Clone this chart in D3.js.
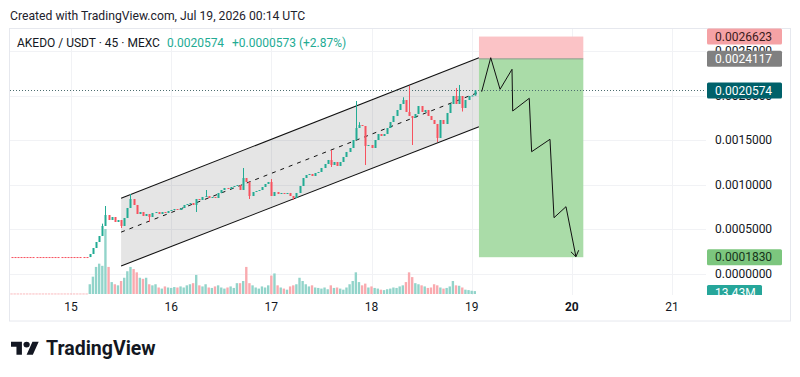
<!DOCTYPE html>
<html><head><meta charset="utf-8">
<script src="https://cdn.jsdelivr.net/npm/d3@7"></script>
<style>body{margin:0;background:#fff;} svg{display:block;font-family:Roboto,"Noto Sans",sans-serif;}</style>
</head><body><svg id="c" width="800" height="377"></svg>
<script>
// ---------------- DATA ----------------
const startTime = "2026-07-14T09:45:00Z";
const intervalMinutes = 45;
const preListingCloses = [0.000185,0.000185,0.000185,0.000185,0.000185,0.000185,0.000185,0.000185,0.000185,0.000185,
  0.000185,0.000185,0.000185,0.000185,0.000185,0.000185,0.000185,0.000185,0.000185,0.000185,
  0.000185,0.000185,0.000185,0.000185,0.000185];
const tradingCloses = [
  0.0002191,0.0002865,0.0003539,0.0004213,0.0005337,0.0006573,0.0006011,0.0006348,0.0005787,0.0006011,
  0.0005337,0.0006236,0.0007360,0.0008371,0.0007697,0.0006685,0.0006910,0.0006461,0.0006685,0.0006348,
  0.0006798,0.0006910,0.0006685,0.0006910,0.0006798,0.0007022,0.0007135,0.0007247,0.0007135,0.0007360,
  0.0007697,0.0007809,0.0007921,0.0007697,0.0008371,0.0008258,0.0008596,0.0008708,0.0008483,0.0008596,
  0.0008483,0.0009045,0.0009382,0.0009607,0.0009494,0.0009719,0.0009831,0.0009944,0.0009382,0.0010730,
  0.0010281,0.0008708,0.0009157,0.0009270,0.0009382,0.0009719,0.0010056,0.0010281,0.0008708,0.0009157,
  0.0008933,0.0009045,0.0008933,0.0009045,0.0008708,0.0008483,0.0009045,0.0009831,0.0010730,0.0011067,
  0.0011180,0.0010955,0.0011292,0.0011404,0.0011854,0.0012303,0.0012753,0.0012191,0.0012528,0.0012079,
  0.0012528,0.0013090,0.0013652,0.0014101,0.0015000,0.0016348,0.0016685,0.0016573,0.0014326,0.0014438,
  0.0014101,0.0015000,0.0015674,0.0015449,0.0015674,0.0016348,0.0017022,0.0017697,0.0018371,0.0019045,
  0.0019494,0.0018146,0.0017697,0.0017472,0.0017921,0.0018820,0.0018146,0.0018371,0.0017697,0.0017247,
  0.0016798,0.0015225,0.0017247,0.0016798,0.0018034,0.0019045,0.0019944,0.0019045,0.0019944,0.0018596,
  0.0019494,0.0019944,0.0020001,0.0020574];
const preListingVolumes = [2,2,2,2,2,2,2,2,2,2,2,2,2,2,2,2,2,2,2,2,2,2,2,2,2]; // millions
const tradingVolumes = [
  45,80,125,140,130,300,125,55,45,40,
  60,75,105,125,115,100,75,70,75,45,
  40,45,30,25,35,30,28,32,30,35,
  30,40,45,50,88,40,35,45,30,28,
  35,40,30,25,30,35,28,50,50,60,
  125,50,40,30,25,35,30,40,85,95,
  40,30,25,20,35,40,45,75,60,45,
  35,40,30,28,25,30,22,40,28,30,
  25,20,30,45,60,100,55,40,48,30,
  35,28,25,20,18,22,25,30,28,35,
  40,55,100,78,50,45,40,35,28,30,
  45,40,30,25,28,35,60,40,38,30,
  20,18,15,13.43];
// [candle index, price] for visible wicks
const wickHighs = [[29,0.00056],[30,0.0007584],[38,0.0008933],[62,0.0009382],[74,0.0011854],[83,0.0010618],
  [102,0.0013876],[110,0.0019382],[111,0.0017],[127,0.0021067],[142,0.0020843],[143,0.002118],[125,0.00198]];
const wickLows = [[35,0.0005112],[44,0.0005787],[59,0.000691],[76,0.0008371],[90,0.0008258],[102,0.0011966],
  [113,0.0012191],[128,0.0014438],[136,0.0014775],[144,0.00182]];
const priceTicks = [0, 0.0005, 0.001, 0.0015, 0.002, 0.0025];
const dayTicks = ["2026-07-15","2026-07-16","2026-07-17","2026-07-18","2026-07-19","2026-07-20","2026-07-21"];
const boldDay = "2026-07-20";
const channelTimes = ["2026-07-15T12:00:00Z","2026-07-19T01:45:00Z"];
const channelUpper = [0.000845, 0.002425];
const channelLower = [0.0000843, 0.00165];
const positionTimes = ["2026-07-19T01:45:00Z","2026-07-20T02:45:00Z"];
const stopPrice = 0.0026623, entryPrice = 0.0024117, targetPrice = 0.000183;
const projTimes = ["2026-07-19T02:24:00Z","2026-07-19T04:34:00Z","2026-07-19T06:48:00Z","2026-07-19T09:40:00Z",
  "2026-07-19T09:50:00Z","2026-07-19T13:48:00Z","2026-07-19T14:22:00Z","2026-07-19T18:46:00Z",
  "2026-07-19T19:44:00Z","2026-07-19T22:36:00Z","2026-07-20T00:59:00Z"];
const projPrices = [0.0020427,0.0024247,0.0020697,0.0022944,0.0018258,0.0019685,0.0013685,0.0015079,0.000627,0.0007506,0.0001888];
const lastPrice = 0.0020574, priceChange = 0.0000573, pctChange = 2.87;
const lastVolumeLabel = "13.43M";
const symbolText = "AKEDO / USDT · 45 · MEXC";
const createdText = "Created with TradingView.com, Jul 19, 2026 00:14 UTC";

// ---------------- BUILD ----------------
const closes = preListingCloses.concat(tradingCloses);
const volumes = preListingVolumes.concat(tradingVolumes);
const t0 = new Date(startTime).getTime();
const candles = closes.map((c,i)=>{
  const o = i===0 ? c : closes[i-1];
  return {t:new Date(t0 + i*intervalMinutes*60000), o, c, h:Math.max(o,c), l:Math.min(o,c), v:volumes[i]};
});
wickHighs.forEach(([i,p])=>{candles[i].h = Math.max(candles[i].h,p);});
wickLows.forEach(([i,p])=>{candles[i].l = Math.min(candles[i].l,p);});

const up = "#22ab94", down = "#f7525f";
const upVol = "#92d4ca", downVol = "#f9aaaf";

const svg = d3.select("#c");
const paneL = 10, paneR = 706, paneT = 29, paneB = 295;

const x = d3.scaleUtc().domain([new Date("2026-07-15T00:00:00Z"), new Date("2026-07-21T00:00:00Z")]).range([71, 672]);
const y = d3.scaleLinear().domain([0, 0.0025]).range([273.5, 51]);
const yv = d3.scaleLinear().domain([0, 300]).range([294, 229]);

svg.append("defs").append("clipPath").attr("id","pane").append("rect")
  .attr("x",paneL).attr("y",paneT).attr("width",paneR-paneL).attr("height",paneB-paneT);

// border
svg.append("rect").attr("x",9.5).attr("y",28.5).attr("width",781).attr("height",292.5)
  .attr("fill","none").attr("stroke","#e6e8ee");

// grid
const grid = svg.append("g").attr("clip-path","url(#pane)");
grid.selectAll(".hg").data(priceTicks).join("line")
  .attr("x1",paneL).attr("x2",paneR).attr("y1",d=>Math.round(y(d))+0.5).attr("y2",d=>Math.round(y(d))+0.5)
  .attr("stroke","#f1f2f5");
grid.selectAll(".vg").data(dayTicks).join("line")
  .attr("x1",d=>Math.round(x(new Date(d+"T00:00:00Z")))+0.5).attr("x2",d=>Math.round(x(new Date(d+"T00:00:00Z")))+0.5)
  .attr("y1",paneT).attr("y2",paneB).attr("stroke","#f1f2f5");

const pane = svg.append("g").attr("clip-path","url(#pane)");

// channel
const ct = channelTimes.map(d=>new Date(d));
const poly = [[x(ct[0]),y(channelUpper[0])],[x(ct[1]),y(channelUpper[1])],[x(ct[1]),y(channelLower[1])],[x(ct[0]),y(channelLower[0])]];
pane.append("path").attr("d","M"+poly.join("L")+"Z").attr("fill","rgba(0,0,0,0.1)");
pane.append("line").attr("x1",poly[0][0]).attr("y1",poly[0][1]).attr("x2",poly[1][0]).attr("y2",poly[1][1]).attr("stroke","#111").attr("stroke-width",1.1);
pane.append("line").attr("x1",poly[3][0]).attr("y1",poly[3][1]).attr("x2",poly[2][0]).attr("y2",poly[2][1]).attr("stroke","#111").attr("stroke-width",1.1);
pane.append("line").attr("x1",poly[0][0]).attr("y1",y((channelUpper[0]+channelLower[0])/2))
  .attr("x2",poly[1][0]).attr("y2",y((channelUpper[1]+channelLower[1])/2))
  .attr("stroke","#111").attr("stroke-width",1).attr("stroke-dasharray","4,5");

// position box
const pt = positionTimes.map(d=>new Date(d));
pane.append("rect").attr("x",x(pt[0])).attr("width",x(pt[1])-x(pt[0]))
  .attr("y",y(stopPrice)).attr("height",y(entryPrice)-y(stopPrice)).attr("fill","#fbc3c6");
pane.append("rect").attr("x",x(pt[0])).attr("width",x(pt[1])-x(pt[0]))
  .attr("y",y(entryPrice)).attr("height",y(targetPrice)-y(entryPrice)).attr("fill","#aadca8");
pane.append("line").attr("x1",x(pt[0])).attr("x2",x(pt[1])).attr("y1",y(entryPrice)).attr("y2",y(entryPrice))
  .attr("stroke","#8c9a8c").attr("stroke-width",1);

// last price dotted line
pane.append("line").attr("x1",paneL).attr("x2",paneR).attr("y1",Math.round(y(lastPrice))+0.5).attr("y2",Math.round(y(lastPrice))+0.5)
  .attr("stroke","#4d6e70").attr("stroke-dasharray","1,2");

// volume
const step = x(new Date(t0+intervalMinutes*60000)) - x(new Date(t0));
pane.selectAll(".vol").data(candles).join("rect")
  .attr("x",d=>x(d.t)-step*0.38).attr("width",step*0.76)
  .attr("y",d=>yv(d.v)).attr("height",d=>Math.max(0.8,yv(0)-yv(d.v)))
  .attr("fill",d=>d.c>d.o?upVol:downVol);

// candles
const cg = pane.append("g");
cg.selectAll(".wick").data(candles).join("line")
  .attr("x1",d=>Math.round(x(d.t))+0.5).attr("x2",d=>Math.round(x(d.t))+0.5)
  .attr("y1",d=>y(d.h)).attr("y2",d=>y(d.l))
  .attr("stroke",d=>d.c>d.o?up:down).attr("stroke-width",1);
cg.selectAll(".body").data(candles).join("rect")
  .attr("x",d=>Math.round(x(d.t))-0.5).attr("width",2)
  .attr("y",d=>y(Math.max(d.o,d.c))).attr("height",d=>Math.max(1,Math.abs(y(d.o)-y(d.c))))
  .attr("fill",d=>d.c>d.o?up:down);

// projection zigzag
const proj = projTimes.map((t,i)=>[x(new Date(t)),y(projPrices[i])]);
pane.append("path").attr("d",d3.line()(proj)).attr("fill","none").attr("stroke","#111").attr("stroke-width",1);
const [ax,ay] = proj[proj.length-1], [bx,by] = proj[proj.length-2];
const ang = Math.atan2(ay-by, ax-bx);
[-0.6,0.6].forEach(a=>{
  pane.append("line").attr("x1",ax).attr("y1",ay)
    .attr("x2",ax-7*Math.cos(ang+a)).attr("y2",ay-7*Math.sin(ang+a))
    .attr("stroke","#111").attr("stroke-width",1);
});

// price axis labels
const fmt = d3.format(".7f");
svg.selectAll(".pt").data(priceTicks).join("text")
  .attr("x",715).attr("y",d=>y(d)).attr("dy","0.35em")
  .attr("font-size",12).attr("fill","#131722").text(d=>fmt(d));

function priceLabel(val, bg, fg, txt){
  const cy = y(val);
  svg.append("rect").attr("x",707).attr("y",cy-8).attr("width",75).attr("height",16).attr("rx",1.5).attr("fill",bg);
  svg.append("text").attr("x",715).attr("y",cy).attr("dy","0.35em").attr("font-size",12).attr("fill",fg).text(txt||fmt(val));
}
priceLabel(stopPrice,"#f5a2a5","#3b1a1c");
priceLabel(entryPrice,"#808080","#ffffff");
priceLabel(lastPrice,"#00616a","#ffffff");
priceLabel(targetPrice,"#7cc67e","#16331a");

// volume label (clipped by pane bottom)
svg.append("clipPath").attr("id","vclip").append("rect").attr("x",700).attr("y",paneT).attr("width",90).attr("height",paneB-paneT);
const vl = svg.append("g").attr("clip-path","url(#vclip)");
const vy = Math.min(yv(tradingVolumes[tradingVolumes.length-1]), 291);
vl.append("rect").attr("x",707).attr("y",vy-6).attr("width",55).attr("height",16).attr("rx",1.5).attr("fill","#26a69a");
vl.append("text").attr("x",715).attr("y",vy+2).attr("dy","0.35em").attr("font-size",12).attr("fill","#fff").text(lastVolumeLabel);

// time axis
svg.selectAll(".dt").data(dayTicks).join("text")
  .attr("x",d=>x(new Date(d+"T00:00:00Z"))).attr("y",307).attr("dy","0.35em")
  .attr("text-anchor","middle").attr("font-size",12)
  .attr("font-weight",d=>d===boldDay?700:400).attr("fill","#131722")
  .text(d=>+d.slice(8,10));

// header
svg.append("text").attr("x",10).attr("y",20).attr("font-size",12.2).attr("fill","#1e222d").text(createdText);
const lg = svg.append("text").attr("x",17).attr("y",47).attr("font-size",12).attr("fill","#131722");
lg.append("tspan").text(symbolText);
lg.append("tspan").attr("x",167).attr("fill",up).text(fmt(lastPrice));
lg.append("tspan").attr("x",232).attr("fill",up).text("+"+fmt(priceChange)+" (+"+pctChange.toFixed(2)+"%)");

// logo
const logo = svg.append("g").attr("transform","translate(11,338.8) scale(0.78,0.72)").attr("fill","#131722");
logo.append("path").attr("d","M14 22H7V11H0V4h14v18zM28 22h-8l7.5-18h8L28 22z");
logo.append("circle").attr("cx",20).attr("cy",8).attr("r",4);
svg.append("text").attr("x",46).attr("y",355).attr("font-size",19.5).attr("font-weight",700)
  .attr("letter-spacing","0").attr("fill","#131722").text("TradingView");
</script></body></html>
